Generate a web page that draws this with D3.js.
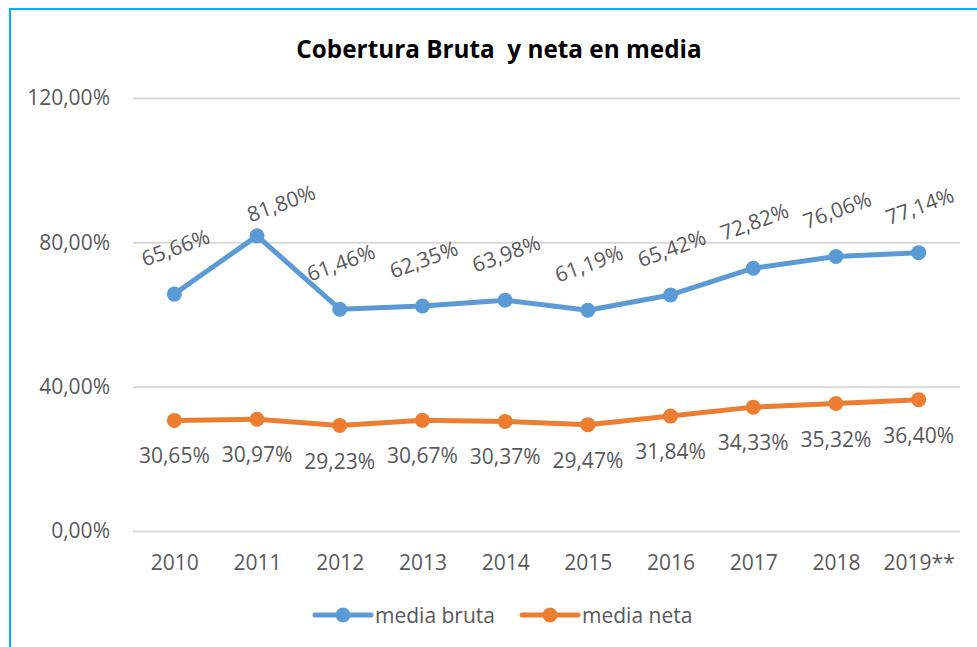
<!DOCTYPE html>
<html>
<head>
<meta charset="utf-8">
<script src="https://cdn.jsdelivr.net/npm/d3@7"></script>
<style>
  html, body { margin: 0; padding: 0; background: #fff; }
  svg { display: block; }
</style>
</head>
<body>
<svg id="chart" width="977" height="647"></svg>
<script>
// ---- data ----
const years = ["2010","2011","2012","2013","2014","2015","2016","2017","2018","2019**"];
const mediaBruta = [65.66, 81.80, 61.46, 62.35, 63.98, 61.19, 65.42, 72.82, 76.06, 77.14];
const mediaNeta  = [30.65, 30.97, 29.23, 30.67, 30.37, 29.47, 31.84, 34.33, 35.32, 36.40];
const yTicks = [0, 40, 80, 120];
const seriesNames = ["media bruta", "media neta"];
const titleText = "Cobertura Bruta  y neta en media";

// ---- layout ----
const W = 977, H = 647;
const plot = { left: 133, right: 960, top: 98, bottom: 531 };
const colors = ["#5B9BD5", "#ED7D31"];
const textColor = "#595959";
const FONT = "'Open Sans', 'Noto Sans', sans-serif";
const FS = 21;

const loc = d3.formatLocale({ decimal: ",", thousands: ".", grouping: [3], currency: ["", "€"] });
const fmt = v => loc.format(".2f")(v) + "%";

const svg = d3.select("#chart");

// frame
svg.append("rect").attr("x", 0).attr("y", 0).attr("width", W).attr("height", H).attr("fill", "#fff");
svg.append("rect")
  .attr("x", 10).attr("y", 9).attr("width", W + 20).attr("height", H + 20)
  .attr("fill", "none").attr("stroke", "#00B0F0").attr("stroke-width", 2);

const x = d3.scalePoint().domain(years).range([plot.left, plot.right]).padding(0.5);
const y = d3.scaleLinear().domain([0, 120]).range([plot.bottom, plot.top]);

// y axis with gridlines
const yAxis = svg.append("g")
  .attr("transform", `translate(${plot.left},0)`)
  .call(d3.axisLeft(y).tickValues(yTicks).tickFormat(fmt).tickSize(-(plot.right - plot.left)).tickPadding(23));
yAxis.select(".domain").remove();
yAxis.selectAll(".tick line").attr("stroke", "#D9D9D9").attr("stroke-width", 2);
yAxis.selectAll(".tick text").attr("fill", textColor).attr("font-family", FONT).attr("font-size", FS);

// x axis labels
const xAxis = svg.append("g")
  .attr("transform", `translate(0,${plot.bottom})`)
  .call(d3.axisBottom(x).tickSize(0).tickPadding(24));
xAxis.select(".domain").remove();
xAxis.selectAll(".tick text").attr("fill", textColor).attr("font-family", FONT).attr("font-size", FS);

// title
svg.append("text")
  .attr("x", 499).attr("y", 58)
  .attr("text-anchor", "middle")
  .style("white-space", "pre")
  .attr("font-family", FONT).attr("font-weight", "bold").attr("font-size", 24.3)
  .attr("fill", "#000")
  .text(titleText);

// lines
const seriesData = [mediaBruta, mediaNeta];
const line = d3.line().x((d, i) => x(years[i])).y(d => y(d));

seriesData.forEach((vals, s) => {
  svg.append("path")
    .datum(vals)
    .attr("d", line)
    .attr("fill", "none")
    .attr("stroke", colors[s])
    .attr("stroke-width", 5)
    .attr("stroke-linejoin", "round")
    .attr("stroke-linecap", "round");
  svg.append("g").selectAll("circle")
    .data(vals)
    .join("circle")
    .attr("cx", (d, i) => x(years[i]))
    .attr("cy", d => y(d))
    .attr("r", 7.5)
    .attr("fill", colors[s]);
});

// labels for media bruta (rotated, above)
const brutaNudge = { "2011": [23, 14] };
svg.append("g").selectAll("text")
  .data(mediaBruta)
  .join("text")
  .attr("transform", (d, i) => {
    const n = brutaNudge[years[i]] || [0, 0];
    const cx = x(years[i]) + 1 + n[0];
    const cy = y(d) - 47 + n[1];
    return `translate(${cx},${cy}) rotate(-20)`;
  })
  .attr("text-anchor", "middle")
  .attr("dominant-baseline", "central")
  .attr("font-family", FONT).attr("font-size", FS)
  .attr("fill", textColor)
  .text(d => fmt(d));

// labels for media neta (below)
svg.append("g").selectAll("text")
  .data(mediaNeta)
  .join("text")
  .attr("x", (d, i) => x(years[i]))
  .attr("y", d => y(d) + 35)
  .attr("text-anchor", "middle")
  .attr("dominant-baseline", "central")
  .attr("font-family", FONT).attr("font-size", FS)
  .attr("fill", textColor)
  .text(d => fmt(d));

// legend
const legendItems = [
  { name: seriesNames[0], x0: 315, color: colors[0] },
  { name: seriesNames[1], x0: 522, color: colors[1] }
];
const ly = 615;
const lg = svg.append("g");
legendItems.forEach(it => {
  lg.append("line").attr("x1", it.x0).attr("x2", it.x0 + 56).attr("y1", ly).attr("y2", ly)
    .attr("stroke", it.color).attr("stroke-width", 5).attr("stroke-linecap", "round");
  lg.append("circle").attr("cx", it.x0 + 28).attr("cy", ly).attr("r", 7.5).attr("fill", it.color);
  lg.append("text").attr("x", it.x0 + 60).attr("y", ly).attr("dominant-baseline", "central")
    .attr("font-family", FONT).attr("font-size", FS).attr("fill", textColor).text(it.name);
});
</script>
</body>
</html>
